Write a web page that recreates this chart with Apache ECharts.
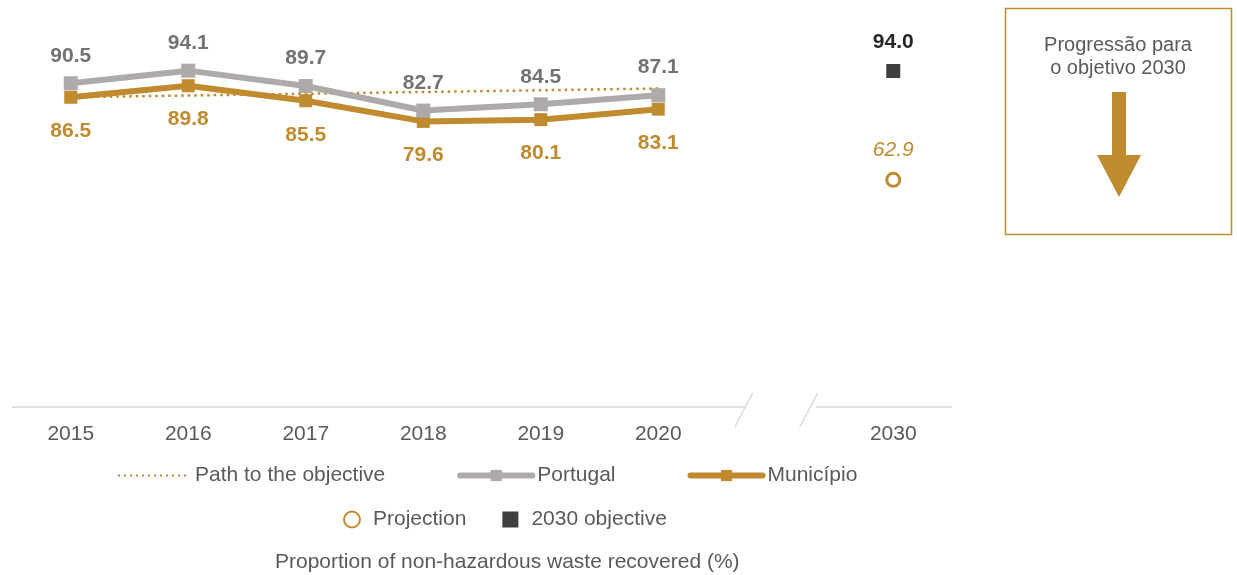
<!DOCTYPE html>
<html>
<head>
<meta charset="utf-8">
<script src="https://cdn.jsdelivr.net/npm/echarts@6/dist/echarts.min.js"></script>
<style>
html,body{margin:0;padding:0;background:#fff;}
#chart{width:1237px;height:575px;}
</style>
</head>
<body>
<div id="chart"></div>
<script>
// ---- data ----
var categories = ['2015','2016','2017','2018','2019','2020',' ','2030'];
var portugal = [90.5, 94.1, 89.7, 82.7, 84.5, 87.1, null, null];
var municipio = [86.5, 89.8, 85.5, 79.6, 80.1, 83.1, null, null];
var pathToObjective = [86.5, 87.0, 87.5, 88.0, 88.5, 89.0, null, null];
var projection = [['2030', 62.9]];
var objective2030 = [['2030', 94.0]];
var chartTitle = 'Proportion of non-hazardous waste recovered (%)';
var boxText = 'Progressão para\no objetivo 2030';

var GOLD = '#C08A2F';
var GRAY = '#AEAAAA';
var TXT = '#595959';
var FONT = '"Liberation Sans", Arial, sans-serif';

var chart = echarts.init(document.getElementById('chart'), null, {renderer: 'canvas'});

var option = {
  animation: false,
  backgroundColor: '#fff',
  textStyle: {fontFamily: FONT},
  title: {
    text: chartTitle,
    left: 270, top: 547,
    textStyle: {fontSize: 21, fontWeight: 'normal', color: TXT, fontFamily: FONT}
  },
  grid: {left: 12, right: 285, top: 50, bottom: 168, containLabel: false},
  xAxis: {
    type: 'category',
    data: categories,
    boundaryGap: true,
    axisLine: {show: false},
    axisTick: {show: false},
    axisLabel: {color: TXT, fontSize: 21, margin: 17, fontFamily: FONT}
  },
  yAxis: {
    type: 'value', min: -2, max: 100,
    show: false,
    splitLine: {show: false}
  },
  legend: [
    {
      data: [
        {name: 'Path to the objective', itemStyle: {opacity: 0}, lineStyle: {width: 2, type: [2, 4]}},
        {name: 'Portugal', lineStyle: {width: 6, cap: 'round'}},
        {name: 'Município', lineStyle: {width: 6, cap: 'round'}}
      ],
      left: 112, top: 460,
      itemWidth: 72, itemHeight: 14, itemGap: 72,
      textStyle: {color: TXT, fontSize: 21, fontFamily: FONT}
    },
    {
      data: ['Projection', '2030 objective'],
      left: 338, top: 504,
      itemWidth: 16, itemHeight: 16, itemGap: 36,
      textStyle: {color: TXT, fontSize: 21, fontFamily: FONT, padding: [0, 0, 0, 8]}
    }
  ],
  series: [
    {
      name: 'Path to the objective',
      type: 'line',
      data: pathToObjective,
      symbol: 'none',
      z: 1,
      lineStyle: {color: GOLD, width: 2.5, type: [2.5, 4]},
      itemStyle: {color: GOLD}
    },
    {
      name: 'Portugal',
      type: 'line',
      data: portugal,
      symbol: 'rect', symbolSize: 14,
      z: 3,
      lineStyle: {color: GRAY, width: 6, cap: 'round'},
      itemStyle: {color: GRAY},
      label: {show: true, position: 'top', distance: 10, color: '#757171', fontSize: 21, fontWeight: 'bold', fontFamily: FONT,
        formatter: function (p) { return p.value.toFixed(1); }}
    },
    {
      name: 'Município',
      type: 'line',
      data: municipio,
      symbol: 'rect', symbolSize: 13,
      z: 2,
      lineStyle: {color: GOLD, width: 6, cap: 'round'},
      itemStyle: {color: GOLD},
      label: {show: true, position: 'bottom', distance: 17, color: GOLD, fontSize: 21, fontWeight: 'bold', fontFamily: FONT,
        formatter: function (p) { return p.value.toFixed(1); }}
    },
    {
      name: 'Projection',
      type: 'scatter',
      data: projection,
      symbol: 'circle', symbolSize: 13,
      itemStyle: {color: '#fff', borderColor: GOLD, borderWidth: 3, opacity: 1},
      label: {show: true, position: 'top', distance: 11, color: GOLD, fontSize: 21, fontStyle: 'italic', fontFamily: FONT,
        formatter: function (p) { return p.value[1].toFixed(1); }}
    },
    {
      name: '2030 objective',
      type: 'scatter',
      data: objective2030,
      symbol: 'rect', symbolSize: 14,
      itemStyle: {color: '#404040', opacity: 1},
      label: {show: true, position: 'top', distance: 11, color: '#262626', fontSize: 21, fontWeight: 'bold', fontFamily: FONT,
        formatter: function (p) { return p.value[1].toFixed(1); }}
    }
  ]
};
chart.setOption(option);

// axis line with break marks, computed from the axis scale
var x0 = chart.convertToPixel({xAxisIndex: 0}, categories[0]);
var x1 = chart.convertToPixel({xAxisIndex: 0}, categories[1]);
var band = x1 - x0;
var gapX = chart.convertToPixel({xAxisIndex: 0}, categories[6]);
var axisY = chart.convertToPixel({yAxisIndex: 0}, -2);
var left = x0 - band / 2;
var right = chart.convertToPixel({xAxisIndex: 0}, categories[7]) + band / 2;
var bOff = 32;
var lineStyle = {stroke: '#D9D9D9', lineWidth: 1.5};

chart.setOption({
  graphic: [
    {type: 'line', shape: {x1: left, y1: axisY, x2: gapX - bOff + 2, y2: axisY}, style: lineStyle, silent: true},
    {type: 'line', shape: {x1: gapX + bOff + 8, y1: axisY, x2: right, y2: axisY}, style: lineStyle, silent: true},
    {type: 'line', shape: {x1: gapX - bOff + 9, y1: axisY - 14, x2: gapX - bOff - 9, y2: axisY + 20}, style: lineStyle, silent: true},
    {type: 'line', shape: {x1: gapX + bOff + 10, y1: axisY - 14, x2: gapX + bOff - 8, y2: axisY + 20}, style: lineStyle, silent: true},
    // right-hand box
    {type: 'rect', shape: {x: 1005.5, y: 8.5, width: 226, height: 226}, style: {fill: '#fff', stroke: GOLD, lineWidth: 1.5}, silent: true},
    {type: 'text', x: 1118, y: 34, style: {text: boxText, align: 'center', verticalAlign: 'top', fill: TXT, font: '20px ' + FONT, lineHeight: 23}, silent: true},
    {type: 'polygon', shape: {points: [[1112, 92], [1126, 92], [1126, 155], [1141, 155], [1119, 197], [1097, 155], [1112, 155]]}, style: {fill: GOLD}, silent: true}
  ]
});
</script>
</body>
</html>
